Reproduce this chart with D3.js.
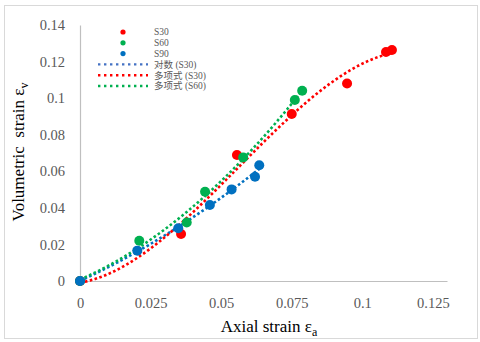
<!DOCTYPE html>
<html>
<head>
<meta charset="utf-8">
<script src="https://cdn.jsdelivr.net/npm/d3@7"></script>
<style>
  body { margin: 0; background: #fff; }
  svg { display: block; }
</style>
</head>
<body>
<svg id="chart" width="480" height="342"></svg>
<script>
// data (axial strain, volumetric strain)
const s30X = [0, 0.0358, 0.0556, 0.075, 0.0946, 0.1084, 0.1105];
const s30Y = [0, 0.0257, 0.0689, 0.0913, 0.108, 0.1252, 0.1263];
const s60X = [0, 0.021, 0.0378, 0.0443, 0.0578, 0.0761, 0.0787];
const s60Y = [0, 0.022, 0.032, 0.0488, 0.0676, 0.099, 0.104];
const s90X = [0, 0.0203, 0.0348, 0.046, 0.0537, 0.062, 0.0635];
const s90Y = [0, 0.0166, 0.0288, 0.0416, 0.0501, 0.057, 0.0633];

const xTicks = [0, 0.025, 0.05, 0.075, 0.1, 0.125];
const yTicks = [0, 0.02, 0.04, 0.06, 0.08, 0.1, 0.12, 0.14];

const RED = '#ff0000', GREEN = '#00b050', BLUE = '#0070c0';
const SERIF = '"Liberation Serif", "Times New Roman", serif';

const svg = d3.select('#chart');
const width = 480, height = 342;
const margin = { left: 80, top: 25, right: 33, bottom: 61 };

const x = d3.scaleLinear().domain([0, 0.13]).range([margin.left, width - margin.right]);
const y = d3.scaleLinear().domain([0, 0.14]).range([height - margin.bottom, margin.top]);

// frame
svg.append('rect')
    .attr('x', 4.5).attr('y', 5.5)
    .attr('width', 473).attr('height', 333)
    .attr('fill', 'none')
    .attr('stroke', '#d9d9d9');

// least squares polynomial (like the excel trendline)
function polyfit(xs, ys, order) {
    const n = order + 1;
    const A = [];
    for (let i = 0; i < n; i++) {
        A.push(new Array(n + 1).fill(0));
    }
    xs.forEach((xv, k) => {
        for (let i = 0; i < n; i++) {
            for (let j = 0; j < n; j++) A[i][j] += Math.pow(xv, i + j);
            A[i][n] += ys[k] * Math.pow(xv, i);
        }
    });
    for (let c = 0; c < n; c++) {
        let p = c;
        for (let r = c + 1; r < n; r++) if (Math.abs(A[r][c]) > Math.abs(A[p][c])) p = r;
        [A[c], A[p]] = [A[p], A[c]];
        for (let r = 0; r < n; r++) {
            if (r == c) continue;
            const f = A[r][c] / A[c][c];
            for (let j = c; j <= n; j++) A[r][j] -= f * A[c][j];
        }
    }
    return A.map((row, i) => row[n] / row[i]);
}

function trend(xs, ys, order) {
    const coef = polyfit(xs, ys, order);
    const xmax = d3.max(xs);
    return d3.range(0, 61).map(i => {
        const xv = xmax * i / 60;
        const yv = coef.reduce((s, c, k) => s + c * Math.pow(xv, k), 0);
        return [xv, yv];
    });
}

// axes
const xAxis = svg.append('g')
    .attr('transform', `translate(0,${y(0)})`)
    .call(d3.axisBottom(x).tickValues(xTicks).tickSize(0).tickFormat(d => d3.format('~g')(d)).tickPadding(17));
const yAxis = svg.append('g')
    .attr('transform', `translate(${x(0)},0)`)
    .call(d3.axisLeft(y).tickValues(yTicks).tickSize(0).tickFormat(d => d3.format('~g')(d)).tickPadding(15));

[xAxis, yAxis].forEach(ax => {
    ax.attr('font-family', SERIF).attr('font-size', 14.5);
    ax.select('.domain').attr('stroke', '#bfbfbf').attr('stroke-width', 1.2);
    ax.selectAll('text')
        .attr('font-family', SERIF)
        .attr('font-size', 14.5)
        .attr('fill', '#595959');
});

// axis titles
const xt = svg.append('text')
    .attr('x', 269).attr('y', 332)
    .attr('text-anchor', 'middle')
    .attr('font-family', SERIF)
    .attr('font-size', 17)
    .attr('fill', '#000');
xt.append('tspan').text('Axial strain ε');
xt.append('tspan').text('a').attr('dy', 4).attr('font-size', 12);

const yt = svg.append('text')
    .attr('transform', 'translate(24,152) rotate(-90)')
    .attr('text-anchor', 'middle')
    .attr('font-family', SERIF)
    .attr('font-size', 17)
    .attr('fill', '#000')
    .style('white-space', 'pre');
yt.append('tspan').text('Volumetric  strain ε');
yt.append('tspan').text('v').attr('dy', 4).attr('font-size', 12);

// trendlines
const line = d3.line().x(d => x(d[0])).y(d => y(d[1])).curve(d3.curveMonotoneX);
const trends = [
    { pts: trend(s90X, s90Y, 2), color: BLUE },
    { pts: trend(s30X, s30Y, 3), color: RED },
    { pts: trend(s60X, s60Y, 2), color: GREEN }
];
svg.append('g')
    .selectAll('path')
    .data(trends)
    .enter()
    .append('path')
    .attr('d', d => line(d.pts))
    .attr('fill', 'none')
    .attr('stroke', d => d.color)
    .attr('stroke-width', 2.6)
    .attr('stroke-dasharray', '2.6,2.4');

// points
const series = [
    { xs: s30X, ys: s30Y, color: RED },
    { xs: s60X, ys: s60Y, color: GREEN },
    { xs: s90X, ys: s90Y, color: BLUE }
];
series.forEach(s => {
    svg.append('g')
        .selectAll('circle')
        .data(s.xs.map((xv, i) => [xv, s.ys[i]]))
        .enter()
        .append('circle')
        .attr('cx', d => x(d[0]))
        .attr('cy', d => y(d[1]))
        .attr('r', 5)
        .attr('fill', s.color);
});

// legend
const legend = svg.append('g');
const legendItems = [
    { label: 'S30', color: RED, kind: 'dot' },
    { label: 'S60', color: GREEN, kind: 'dot' },
    { label: 'S90', color: BLUE, kind: 'dot' },
    { label: '对数 (S30)', color: '#4472c4', kind: 'line' },
    { label: '多项式 (S30)', color: RED, kind: 'line' },
    { label: '多项式 (S60)', color: GREEN, kind: 'line' }
];
legendItems.forEach((it, i) => {
    const ly = 32 + i * 10.8;
    if (it.kind == 'dot') {
        legend.append('circle').attr('cx', 123).attr('cy', ly).attr('r', 2.6).attr('fill', it.color);
    } else {
        legend.append('line')
            .attr('x1', 98).attr('x2', 148).attr('y1', ly).attr('y2', ly)
            .attr('stroke', it.color).attr('stroke-width', 2.4)
            .attr('stroke-dasharray', '2.4,3.6');
    }
    legend.append('text')
        .attr('x', 154).attr('y', ly + 3.3)
        .attr('font-family', '"Liberation Serif", "Noto Sans CJK SC", serif')
        .attr('font-size', 9.5)
        .attr('fill', '#595959')
        .text(it.label);
});
</script>
</body>
</html>
